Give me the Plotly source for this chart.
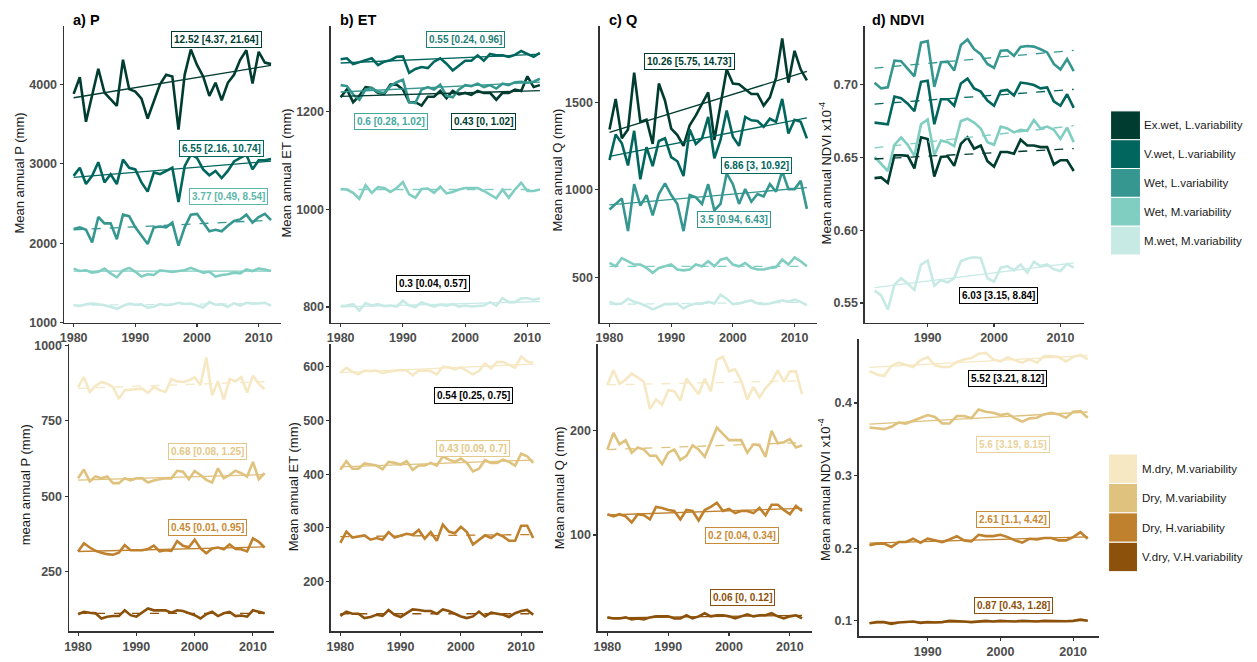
import numpy as np
import plotly.graph_objects as go

W, H = 1257, 662

# ---------------- data ----------------
years = list(range(1980, 2013))
years_ndvi = list(range(1982, 2013))

wet_classes = ["Ex.wet, L.variability", "V.wet, L.variability", "Wet, L.variability",
               "Wet, M.variability", "M.wet, M.variability"]
dry_classes = ["M.dry, M.variability", "Dry, M.variability", "Dry, H.variability",
               "V.dry, V.H.variability"]
wet_colors = ["#003c30", "#01665e", "#35978f", "#80cdc1", "#c7eae5"]
dry_colors = ["#f6e8c3", "#dfc27d", "#bf812d", "#8c510a"]

# Precipitation (mm)
P_exwet = [3880, 4090, 3530, 3870, 4197, 3897, 3815, 3730, 4310, 3940, 3910, 3820, 3570, 3790, 4000, 4120,
           4100, 3430, 4120, 4440, 4245, 4100, 3855, 4020, 3800, 4020, 4120, 4310, 4430, 4010, 4410, 4275, 4255]
P_vwet = [2848, 2950, 2745, 2848, 3020, 2765, 2868, 2745, 3053, 2950, 2930, 2765, 2650, 2890, 2870, 2910,
          2950, 2520, 2970, 3115, 3075, 2930, 2856, 2910, 2820, 2910, 3030, 3075, 3115, 2930, 3045, 3045, 3060]
P_wetL = [2180, 2200, 2170, 2010, 2330, 2250, 2250, 2050, 2360, 2340, 2200, 2090, 1990, 2200, 2210, 2200,
          2260, 1970, 2200, 2360, 2370, 2260, 2150, 2170, 2150, 2220, 2280, 2300, 2360, 2260, 2330, 2370, 2290]
P_wetM = [1680, 1650, 1660, 1630, 1640, 1680, 1620, 1570, 1660, 1690, 1640, 1580, 1610, 1600, 1660, 1650,
          1640, 1650, 1660, 1690, 1660, 1630, 1640, 1580, 1600, 1610, 1630, 1620, 1670, 1650, 1680, 1670, 1650]
P_mwet = [1220, 1210, 1230, 1240, 1230, 1220, 1200, 1175, 1210, 1240, 1225, 1230, 1190, 1200, 1235, 1220,
          1230, 1250, 1235, 1240, 1215, 1190, 1260, 1225, 1230, 1200, 1245, 1215, 1250, 1240, 1245, 1250, 1215]
P_mdry = [861, 894, 845, 865, 878, 872, 861, 822, 851, 853, 856, 856, 842, 861, 851, 845,
          888, 880, 878, 883, 894, 867, 959, 834, 880, 820, 888, 880, 894, 843, 899, 872, 854]
P_dryM = [559, 588, 549, 565, 559, 565, 543, 543, 559, 552, 559, 559, 545, 552, 556, 559,
          559, 584, 581, 556, 583, 570, 554, 545, 592, 559, 570, 584, 576, 565, 613, 556, 576]
P_dryH = [317, 344, 330, 319, 313, 308, 306, 313, 338, 321, 321, 321, 325, 336, 317, 321,
          319, 351, 336, 331, 356, 327, 311, 327, 330, 324, 340, 325, 324, 317, 360, 349, 330]
P_vdry = [109, 117, 114, 112, 95, 101, 103, 103, 122, 106, 101, 114, 128, 122, 122, 122,
          114, 122, 120, 112, 106, 95, 109, 117, 103, 112, 117, 103, 105, 101, 122, 117, 112]

# Evapotranspiration (mm)
ET_exwet = [1230, 1246, 1220, 1233, 1251, 1249, 1239, 1237, 1256, 1256, 1246, 1220, 1220, 1213, 1231, 1231,
            1243, 1228, 1243, 1236, 1239, 1235, 1243, 1239, 1239, 1225, 1239, 1239, 1246, 1243, 1273, 1251, 1255]
ET_vwet = [1308, 1310, 1298, 1302, 1305, 1310, 1296, 1303, 1306, 1313, 1314, 1280, 1288, 1292, 1290, 1303,
           1310, 1299, 1285, 1295, 1305, 1305, 1316, 1305, 1319, 1316, 1316, 1313, 1317, 1325, 1319, 1313, 1321]
ET_wetL = [1255, 1253, 1236, 1225, 1246, 1249, 1241, 1239, 1253, 1261, 1266, 1220, 1218, 1246, 1251, 1246,
           1256, 1233, 1230, 1246, 1255, 1253, 1258, 1251, 1255, 1248, 1258, 1255, 1261, 1262, 1260, 1262, 1268]
ET_wetM = [1042, 1041, 1034, 1022, 1050, 1034, 1046, 1044, 1036, 1044, 1056, 1031, 1024, 1042, 1043, 1034,
           1047, 1033, 1036, 1041, 1044, 1044, 1044, 1038, 1031, 1023, 1041, 1024, 1041, 1055, 1038, 1038, 1041]
ET_mwet = [802, 803, 806, 793, 808, 803, 806, 802, 803, 801, 813, 803, 800, 810, 805, 801,
           805, 803, 806, 801, 803, 801, 802, 803, 810, 803, 818, 810, 810, 818, 818, 815, 818]
ET_mdry = [589, 598, 591, 586, 593, 592, 593, 588, 591, 593, 594, 593, 584, 593, 593, 592,
           586, 600, 599, 595, 599, 593, 586, 592, 606, 597, 609, 609, 603, 598, 619, 610, 607]
ET_dryM = [408, 424, 410, 410, 420, 418, 416, 409, 423, 421, 418, 424, 408, 416, 416, 421,
           416, 433, 427, 423, 429, 421, 405, 410, 426, 421, 421, 427, 423, 416, 438, 433, 421]
ET_dryH = [272, 293, 282, 284, 286, 278, 281, 278, 292, 282, 286, 289, 287, 296, 280, 292,
           276, 306, 293, 290, 302, 292, 269, 278, 286, 281, 289, 284, 276, 276, 304, 304, 281]
ET_vdry = [136, 144, 140, 140, 132, 134, 138, 136, 147, 138, 134, 141, 148, 147, 145, 145,
           140, 148, 145, 140, 135, 132, 135, 144, 135, 142, 140, 138, 134, 141, 145, 147, 138]

# Runoff (mm)
Q_exwet = [1345, 1519, 1294, 1345, 1669, 1388, 1400, 1262, 1607, 1509, 1350, 1313, 1251, 1369, 1425, 1491,
           1556, 1285, 1481, 1687, 1607, 1603, 1575, 1547, 1547, 1481, 1528, 1640, 1865, 1612, 1794, 1687, 1625]
Q_vwet = [1170, 1316, 1266, 1139, 1337, 1060, 1243, 1135, 1279, 1294, 1187, 1163, 1079, 1345, 1262, 1294,
          1416, 1180, 1285, 1453, 1303, 1251, 1416, 1397, 1393, 1360, 1406, 1388, 1519, 1322, 1400, 1388, 1294]
Q_wetL = [888, 919, 951, 764, 1032, 910, 970, 854, 976, 1037, 970, 919, 764, 970, 957, 919,
          1032, 882, 919, 1094, 1032, 919, 1004, 932, 976, 962, 1032, 989, 1107, 1004, 1004, 1051, 891]
Q_wetM = [582, 563, 610, 592, 573, 573, 554, 526, 554, 563, 573, 545, 540, 545, 573, 563,
          592, 563, 601, 610, 573, 563, 582, 554, 545, 545, 554, 558, 601, 573, 614, 592, 563]
Q_mwet = [360, 347, 350, 378, 360, 350, 335, 317, 332, 347, 347, 350, 322, 341, 350, 350,
          360, 350, 400, 378, 347, 350, 360, 369, 350, 347, 350, 360, 369, 360, 373, 360, 341]
Q_mdry = [244, 258, 245, 249, 255, 251, 247, 221, 230, 225, 239, 238, 229, 250, 243, 235,
          250, 238, 268, 271, 257, 259, 248, 230, 242, 232, 241, 247, 258, 247, 257, 257, 235]
Q_dryM = [182, 198, 187, 191, 179, 184, 182, 176, 176, 168, 179, 182, 172, 176, 186, 182,
          175, 189, 203, 197, 191, 191, 191, 179, 187, 186, 175, 200, 188, 189, 192, 184, 186]
Q_dryH = [120, 118, 120, 118, 112, 120, 119, 115, 127, 126, 124, 123, 115, 124, 123, 114,
          124, 127, 131, 123, 125, 121, 123, 123, 121, 126, 119, 129, 129, 124, 120, 128, 123]
Q_vdry = [21, 20, 20, 21, 19, 20, 19, 21, 22, 22, 22, 20, 20, 23, 20, 22,
          25, 22, 23, 23, 22, 20, 22, 24, 22, 23, 23, 25, 22, 20, 22, 23, 20]

# NDVI (x10^-4 scale as on axis), 1982-2012
N_exwet = [0.6357, 0.6362, 0.6324, 0.6514, 0.6514, 0.6510, 0.6424, 0.6637, 0.6626, 0.6368, 0.6503, 0.6507,
           0.6442, 0.6592, 0.6637, 0.6559, 0.6581, 0.6474, 0.6436, 0.6536, 0.6536, 0.6525, 0.6621, 0.6581,
           0.6581, 0.6570, 0.6570, 0.6451, 0.6480, 0.6480, 0.6406]
N_vwet = [0.6738, 0.6731, 0.6727, 0.6917, 0.6906, 0.6868, 0.6816, 0.7018, 0.7025, 0.6727, 0.6899, 0.6899,
          0.6854, 0.7007, 0.7040, 0.6973, 0.6951, 0.6890, 0.6854, 0.6955, 0.6962, 0.6924, 0.7013, 0.7007,
          0.6996, 0.6973, 0.6980, 0.6884, 0.6854, 0.6933, 0.6839]
N_wetL = [0.7011, 0.6973, 0.6980, 0.7164, 0.7160, 0.7108, 0.7056, 0.7287, 0.7298, 0.6984, 0.7152, 0.7157,
          0.7096, 0.7271, 0.7309, 0.7242, 0.7208, 0.7141, 0.7114, 0.7231, 0.7235, 0.7197, 0.7258, 0.7264,
          0.7260, 0.7242, 0.7220, 0.7141, 0.7103, 0.7175, 0.7092]
N_wetM = [0.6503, 0.6458, 0.6406, 0.6586, 0.6637, 0.6586, 0.6510, 0.6727, 0.6760, 0.6514, 0.6615, 0.6604,
          0.6577, 0.6749, 0.6765, 0.6738, 0.6698, 0.6604, 0.6586, 0.6711, 0.6698, 0.6671, 0.6689, 0.6682,
          0.6756, 0.6698, 0.6711, 0.6689, 0.6626, 0.6704, 0.6604]
N_mwet = [0.5585, 0.5552, 0.5455, 0.5625, 0.5670, 0.5634, 0.5590, 0.5764, 0.5791, 0.5619, 0.5657, 0.5641,
          0.5670, 0.5787, 0.5805, 0.5814, 0.5809, 0.5670, 0.5646, 0.5742, 0.5753, 0.5724, 0.5764, 0.5708,
          0.5782, 0.5753, 0.5764, 0.5731, 0.5720, 0.5769, 0.5742]
N_mdry = [0.4439, 0.4394, 0.4371, 0.4511, 0.4556, 0.4529, 0.4497, 0.4588, 0.4633, 0.4520, 0.4497, 0.4497,
          0.4565, 0.4601, 0.4619, 0.4678, 0.4691, 0.4601, 0.4574, 0.4633, 0.4588, 0.4556, 0.4601, 0.4556,
          0.4646, 0.4646, 0.4633, 0.4574, 0.4633, 0.4664, 0.4601]
N_dryM = [0.3663, 0.3654, 0.3640, 0.3672, 0.3731, 0.3717, 0.3753, 0.3798, 0.3834, 0.3807, 0.3717, 0.3717,
          0.3821, 0.3821, 0.3789, 0.3911, 0.3879, 0.3866, 0.3834, 0.3852, 0.3789, 0.3744, 0.3789, 0.3798,
          0.3843, 0.3866, 0.3843, 0.3798, 0.3879, 0.3888, 0.3798]
N_dryH = [0.2039, 0.2062, 0.2062, 0.2017, 0.2084, 0.2084, 0.2130, 0.2075, 0.2130, 0.2107, 0.2084, 0.2120,
          0.2166, 0.2107, 0.2093, 0.2184, 0.2166, 0.2166, 0.2184, 0.2152, 0.2107, 0.2075, 0.2130, 0.2120,
          0.2139, 0.2139, 0.2107, 0.2107, 0.2152, 0.2220, 0.2130]
N_vdry = [0.0966, 0.0980, 0.0980, 0.0957, 0.0975, 0.0980, 0.0989, 0.0970, 0.0980, 0.0975, 0.0980, 0.0998,
          0.0998, 0.0989, 0.0980, 0.0993, 0.0998, 0.0989, 0.0998, 0.0993, 0.0989, 0.0998, 0.0989, 0.0989,
          0.0998, 0.0993, 0.0989, 0.0993, 0.0998, 0.1016, 0.0998]

# trend labels: slope [CI]
trend_labels = {
    "P_top": ["12.52 [4.37, 21.64]", "6.55 [2.16, 10.74]", "3.77 [0.49, 8.54]"],
    "ET_top": ["0.55 [0.24, 0.96]", "0.6 [0.28, 1.02]", "0.43 [0, 1.02]", "0.3 [0.04, 0.57]"],
    "Q_top": ["10.26 [5.75, 14.73]", "6.86 [3, 10.92]", "3.5 [0.94, 6.43]"],
    "NDVI_top": ["6.03 [3.15, 8.84]"],
    "P_bot": ["0.68 [0.08, 1.25]", "0.45 [0.01, 0.95]"],
    "ET_bot": ["0.54 [0.25, 0.75]", "0.43 [0.09, 0.7]"],
    "Q_bot": ["0.2 [0.04, 0.34]", "0.06 [0, 0.12]"],
    "NDVI_bot": ["5.52 [3.21, 8.12]", "5.6 [3.19, 8.15]", "2.61 [1.1, 4.42]", "0.87 [0.43, 1.28]"],
}

# ---------------- styling / layout config ----------------
FONT = "Liberation Sans, Arial, Helvetica, sans-serif"
TICKC = "#4d4d4d"
AXC = "#333333"

def px_x(x):
    return x / W

def px_y(y):
    return 1 - y / H

panels = [
    dict(key="P_top", box=(59, 277, 20, 323), xr=[1978.4, 2013.6], yr=[1000, 4740],
         yt=[1000, 2000, 3000, 4000], fmt="d", ytitle="Mean annual P (mm)", ytpos=(15, 170),
         ptitle="a) P", ppos=(66, 14)),
    dict(key="ET_top", box=(327, 547, 20, 323), xr=[1978.4, 2013.6], yr=[768, 1377],
         yt=[800, 1000, 1200], fmt="d", ytitle="Mean annual ET (mm)", ytpos=(283, 170),
         ptitle="b) ET", ppos=(334, 14)),
    dict(key="Q_top", box=(597, 815, 20, 323), xr=[1978.4, 2013.6], yr=[241, 1938],
         yt=[500, 1000, 1500], fmt="d", ytitle="Mean annual Q (mm)", ytpos=(555, 167),
         ptitle="c) Q", ppos=(604, 14)),
    dict(key="NDVI_top", box=(863, 1083, 20, 323), xr=[1980.5, 2013.5], yr=[0.5365, 0.7404],
         yt=[0.55, 0.60, 0.65, 0.70], fmt=".2f", ytitle="Mean annual NDVI x10<sup>-4</sup>", ytpos=(823, 170),
         ptitle="d) NDVI", ppos=(868, 14)),
    dict(key="P_bot", box=(64, 270, 345, 638), xr=[1978.4, 2013.6], yr=[52, 1003],
         yt=[250, 500, 750, 1000], fmt="d", ytitle="mean annual P (mm)", ytpos=(20, 488),
         ptitle=None, ppos=None),
    dict(key="ET_bot", box=(327, 540, 345, 638), xr=[1978.4, 2013.6], yr=[107, 642],
         yt=[200, 300, 400, 500, 600], fmt="d", ytitle="Mean annual ET (mm)", ytpos=(290, 490),
         ptitle=None, ppos=None),
    dict(key="Q_bot", box=(595, 810, 345, 638), xr=[1978.4, 2013.6], yr=[7.5, 283],
         yt=[100, 200], fmt="d", ytitle="Mean annual Q (mm)", ytpos=(557, 491),
         ptitle=None, ppos=None),
    dict(key="NDVI_bot", box=(857, 1098, 340, 643), xr=[1980.5, 2013.5], yr=[0.0784, 0.4878],
         yt=[0.1, 0.2, 0.3, 0.4], fmt=".1f", ytitle="Mean annual NDVI x10<sup>-4</sup>", ytpos=(823, 493),
         ptitle=None, ppos=None),
]

series = {
    "P_top": [(P_exwet, wet_colors[0], False), (P_vwet, wet_colors[1], False), (P_wetL, wet_colors[2], True),
              (P_wetM, wet_colors[3], False), (P_mwet, wet_colors[4], True)],
    "ET_top": [(ET_exwet, wet_colors[0], False), (ET_vwet, wet_colors[1], False), (ET_wetL, wet_colors[2], False),
               (ET_wetM, wet_colors[3], True), (ET_mwet, wet_colors[4], False)],
    "Q_top": [(Q_exwet, wet_colors[0], False), (Q_vwet, wet_colors[1], False), (Q_wetL, wet_colors[2], False),
              (Q_wetM, wet_colors[3], True), (Q_mwet, wet_colors[4], True)],
    "NDVI_top": [(N_exwet, wet_colors[0], True), (N_vwet, wet_colors[1], True), (N_wetL, wet_colors[2], True),
                 (N_wetM, wet_colors[3], True), (N_mwet, wet_colors[4], False)],
    "P_bot": [(P_mdry, dry_colors[0], True), (P_dryM, dry_colors[1], False), (P_dryH, dry_colors[2], False),
              (P_vdry, dry_colors[3], True)],
    "ET_bot": [(ET_mdry, dry_colors[0], False), (ET_dryM, dry_colors[1], False), (ET_dryH, dry_colors[2], True),
               (ET_vdry, dry_colors[3], True)],
    "Q_bot": [(Q_mdry, dry_colors[0], True), (Q_dryM, dry_colors[1], True), (Q_dryH, dry_colors[2], False),
              (Q_vdry, dry_colors[3], False)],
    "NDVI_bot": [(N_mdry, dry_colors[0], False), (N_dryM, dry_colors[1], False), (N_dryH, dry_colors[2], False),
                 (N_vdry, dry_colors[3], False)],
}

label_style = {
    "P_top": [((212, 34), wet_colors[0]), ((217, 145), wet_colors[1]), ((224, 194), "#5cb8aa")],
    "ET_top": [((462, 34), "#1f7f76"), ((388, 118), "#45a89e"), ((480, 118), wet_colors[0]), ((430, 283), "#000000")],
    "Q_top": [((687, 57), wet_colors[0]), ((755, 163), wet_colors[1]), ((732, 218), wet_colors[2])],
    "NDVI_top": [((997, 295), "#000000")],
    "P_bot": [((203, 454), "#e3c887"), ((203, 532), "#c98a35")],
    "ET_bot": [((470, 397), "#000000"), ((470, 451), "#e3c887")],
    "Q_bot": [((740, 540), "#c98a35"), ((740, 603), dry_colors[3])],
    "NDVI_bot": [((1007, 380), "#000000"), ((1012, 447), "#e8d39c"), ((1012, 524), "#c98a35"),
                 ((1013, 612), dry_colors[3])],
}


def theil_sen(x, y):
    x = np.asarray(x, float)
    y = np.asarray(y, float)
    i, j = np.triu_indices(len(x), 1)
    b = np.median((y[j] - y[i]) / (x[j] - x[i]))
    a = np.median(y - b * x)
    return a, b


fig = go.Figure()
layout = {}
annotations = []
shapes = []

for k, p in enumerate(panels):
    n = "" if k == 0 else str(k + 1)
    xa, ya = "x" + n, "y" + n
    x0, x1, y0, y1 = p["box"]
    xs = years_ndvi if p["key"].startswith("NDVI") else years
    for vals, col, dashed in series[p["key"]]:
        fig.add_trace(go.Scatter(x=xs, y=vals, mode="lines", xaxis=xa, yaxis=ya,
                                 line=dict(color=col, width=2.6), showlegend=False, hoverinfo="skip"))
    for vals, col, dashed in series[p["key"]]:
        a, b = theil_sen(xs, vals)
        tx = [xs[0], xs[-1]]
        fig.add_trace(go.Scatter(x=tx, y=[a + b * t for t in tx], mode="lines", xaxis=xa, yaxis=ya,
                                 line=dict(color=col, width=1.3, dash="dash" if dashed else "solid"),
                                 showlegend=False, hoverinfo="skip"))

    axis_common = dict(showline=True, linecolor=AXC, linewidth=1.2, ticks="outside", ticklen=3,
                       tickcolor=AXC, tickwidth=1.1, showgrid=False, zeroline=False,
                       tickfont=dict(family=FONT, size=12.5, color=TICKC, weight="bold"))
    layout["xaxis" + n] = dict(axis_common, domain=[px_x(x0), px_x(x1)], anchor=ya, range=p["xr"],
                               tickvals=[1980, 1990, 2000, 2010], tickformat="d")
    layout["yaxis" + n] = dict(axis_common, domain=[px_y(y1), px_y(y0)], anchor=xa, range=p["yr"],
                               tickvals=p["yt"], tickformat=p["fmt"])

    tx_, ty_ = p["ytpos"]
    annotations.append(dict(x=px_x(tx_), y=px_y(ty_), xref="paper", yref="paper", text=p["ytitle"],
                            textangle=-90, showarrow=False, xanchor="center", yanchor="middle",
                            font=dict(family=FONT, size=13, color="#1a1a1a")))
    if p["ptitle"]:
        annotations.append(dict(x=px_x(p["ppos"][0]), y=px_y(p["ppos"][1]), xref="paper", yref="paper",
                                text="<b>" + p["ptitle"] + "</b>", showarrow=False, xanchor="left",
                                yanchor="middle", font=dict(family=FONT, size=14.5, color="#000000")))
    for txt, ((lx, ly), col) in zip(trend_labels[p["key"]], label_style[p["key"]]):
        annotations.append(dict(x=px_x(lx), y=px_y(ly), xref="paper", yref="paper", text="<b>" + txt + "</b>",
                                showarrow=False, xanchor="center", yanchor="middle", bgcolor="white",
                                bordercolor=col, borderwidth=1, borderpad=2,
                                font=dict(family=FONT, size=10, color=col)))


def add_legend(names, cols, x0, x1, ytop, step, tx):
    for i, (nm, col) in enumerate(zip(names, cols)):
        ya0 = ytop + i * step
        shapes.append(dict(type="rect", xref="paper", yref="paper", x0=px_x(x0), x1=px_x(x1),
                           y0=px_y(ya0 + step), y1=px_y(ya0), fillcolor=col,
                           line=dict(color="white", width=1)))
        annotations.append(dict(x=px_x(tx), y=px_y(ya0 + step / 2), xref="paper", yref="paper", text=nm,
                                showarrow=False, xanchor="left", yanchor="middle",
                                font=dict(family=FONT, size=11.5, color="#1a1a1a")))

add_legend(wet_classes, wet_colors, 1110, 1140, 107, 29.4, 1142)
add_legend(dry_classes, dry_colors, 1108, 1137, 457, 30, 1140)

fig.update_layout(**layout)
fig.update_layout(width=W, height=H, autosize=False, margin=dict(l=0, r=0, t=0, b=0),
                  paper_bgcolor="white", plot_bgcolor="white", showlegend=False,
                  annotations=annotations, shapes=shapes, font=dict(family=FONT))

fig.write_html("out.html", config={"displayModeBar": False, "staticPlot": True},
               post_script="document.body.style.margin='0px';document.body.style.overflow='hidden';")
